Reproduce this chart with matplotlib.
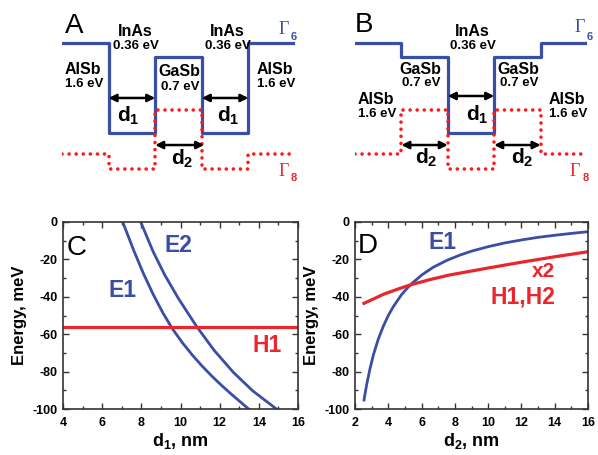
import matplotlib
matplotlib.use('Agg')
import matplotlib.pyplot as plt
from matplotlib.ticker import MultipleLocator

plt.rcParams['font.family'] = ['Liberation Sans', 'DejaVu Sans']
plt.rcParams['font.weight'] = 'bold'
plt.rcParams['axes.labelweight'] = 'bold'
plt.rcParams['axes.unicode_minus'] = False
plt.rcParams['mathtext.fontset'] = 'custom'
plt.rcParams['mathtext.rm'] = 'Liberation Sans:bold'
plt.rcParams['mathtext.bf'] = 'Liberation Sans:bold'
plt.rcParams['mathtext.it'] = 'Liberation Sans:bold'
plt.rcParams['mathtext.sf'] = 'Liberation Sans:bold'

BLUE = '#3a4ea6'
RED = '#e8262c'
W, H = 598, 455

# band diagrams (schematic, arb. units)
layers_a = ['AlSb', 'InAs', 'GaSb', 'InAs', 'AlSb']
layers_b = ['AlSb', 'GaSb', 'InAs', 'GaSb', 'AlSb']
gap_ev = {'AlSb': '1.6 eV', 'InAs': '0.36 eV', 'GaSb': '0.7 eV'}
gamma6 = {'AlSb': 1.0, 'InAs': 0.0, 'GaSb': 0.84}
gamma8 = {'AlSb': -0.23, 'InAs': -0.40, 'GaSb': 0.25}

# panel C: energy vs d1
c_e1_x = [7.05, 7.6, 8.1, 8.6, 9.1, 9.6, 10.1, 10.6, 11.1, 11.6, 12.1, 12.6, 13.1, 13.48]
c_e1_y = [0, -14.9, -27.4, -38.6, -48.6, -57.3, -64.6, -71.1, -77.0, -82.4, -87.4, -92.1, -96.6, -100]
c_e2_x = [7.97, 8.6, 9.2, 9.9, 10.8, 11.7, 12.7, 13.7, 14.9]
c_e2_y = [0, -15.8, -28.4, -41.0, -55.5, -68.4, -80.4, -90.4, -100]
c_h1_x = [4, 16]
c_h1_y = [-56.3, -56.3]

# panel D: energy vs d2
d_e1_x = [2.54, 2.7, 2.9, 3.1, 3.4, 3.7, 4.0, 4.3, 4.8, 5.3, 6.0, 6.7, 7.5,
          8.3, 9.0, 10, 11, 12, 13, 14, 15, 16]
d_e1_y = [-95.2, -87, -78.5, -71.2, -62.6, -55.8, -50, -45.3, -38.8, -33.8,
          -28.4, -24.2, -20.6, -17.7, -15.6, -13.2, -11.2, -9.6, -8.2, -7.1,
          -6.1, -5.2]
d_h_x = [2.54, 3.7, 4.5, 5.3, 6.5, 7.7, 10, 12, 14, 16]
d_h_y = [-43.5, -38.7, -36.1, -33.7, -30.8, -28.3, -24.6, -21.5, -18.6, -15.9]


def ftext(x, y, s, **kw):
    kw.setdefault('ha', 'center')
    kw.setdefault('va', 'center')
    fig.text(x / W, 1 - y / H, s, **kw)


def band_panel(left, right, layers):
    ax = fig.add_axes([left / W, 1 - 190 / H, (right - left) / W, 190 / H])
    ax.set_xlim(0, len(layers))
    ax.set_ylim(-0.631, 1.473)
    ax.axis('off')
    xs = list(range(len(layers) + 1))
    g6 = [gamma6[l] for l in layers]
    g8 = [gamma8[l] for l in layers]
    ax.step(xs, g6 + [g6[-1]], where='post', color=BLUE, lw=2.3, zorder=2)
    ax.step(xs, g8 + [g8[-1]], where='post', color='#ff1a1a', lw=2.6,
            linestyle=(0, (0.01, 1.95)), dash_capstyle='round', zorder=3)
    return ax


def arrow(ax, x0, x1, y):
    ax.annotate('', xy=(x1, y), xytext=(x0, y),
                arrowprops=dict(arrowstyle='<|-|>', color='k', lw=1.8,
                                mutation_scale=11, shrinkA=0, shrinkB=0))


def layer_label(x, y, name, dy=14):
    ftext(x, y, name, fontsize=11.5)
    ftext(x + 1, y + dy, gap_ev[name], fontsize=9.5)


fig = plt.figure(figsize=(W / 100, H / 100), dpi=100)

# ---- A ----
axa = band_panel(62, 295, layers_a)
arrow(axa, 1, 2, 0.388)
arrow(axa, 3, 4, 0.388)
arrow(axa, 2, 3.05, -0.133)
ftext(65, 33, 'A', fontsize=20, fontweight='normal', ha='left', va='baseline')
layer_label(135, 31, 'InAs', 15)
layer_label(227, 31, 'InAs', 15)
layer_label(83, 70, 'AlSb')
layer_label(179, 72, 'GaSb', 15)
layer_label(275, 70, 'AlSb')
ftext(128, 116, r'$\mathrm{d}_\mathrm{1}$', fontsize=15)
ftext(228, 116, r'$\mathrm{d}_\mathrm{1}$', fontsize=15)
ftext(182, 159, r'$\mathrm{d}_\mathrm{2}$', fontsize=15)
ftext(284, 30, 'Γ', fontsize=13, color=BLUE, family='Liberation Serif', fontweight='normal')
ftext(294, 37, '6', fontsize=8, color=BLUE)
ftext(284, 172, 'Γ', fontsize=13, color=RED, family='Liberation Serif', fontweight='normal')
ftext(294, 178, '8', fontsize=8, color=RED)

# ---- B ----
axb = band_panel(355, 587, layers_b)
arrow(axb, 2, 3, 0.41)
arrow(axb, 1, 2, -0.133)
arrow(axb, 3, 4, -0.133)
ftext(355, 32, 'B', fontsize=20, fontweight='normal', ha='left', va='baseline')
layer_label(472, 31, 'InAs', 15)
layer_label(420, 69, 'GaSb')
layer_label(518, 69, 'GaSb')
layer_label(376, 99, 'AlSb', 15)
layer_label(567, 99, 'AlSb', 15)
ftext(477, 115, r'$\mathrm{d}_\mathrm{1}$', fontsize=15)
ftext(426, 158, r'$\mathrm{d}_\mathrm{2}$', fontsize=15)
ftext(522, 158, r'$\mathrm{d}_\mathrm{2}$', fontsize=15)
ftext(580, 27, 'Γ', fontsize=13, color=BLUE, family='Liberation Serif', fontweight='normal')
ftext(590, 37, '6', fontsize=8, color=BLUE)
ftext(575, 172, 'Γ', fontsize=13, color=RED, family='Liberation Serif', fontweight='normal')
ftext(586, 178, '8', fontsize=8, color=RED)


def style_axes(ax, xmin, xlabel):
    ax.set_xlim(xmin, 16)
    ax.set_ylim(-100, 0)
    ax.xaxis.set_major_locator(MultipleLocator(2))
    ax.xaxis.set_minor_locator(MultipleLocator(1))
    ax.yaxis.set_major_locator(MultipleLocator(20))
    ax.yaxis.set_minor_locator(MultipleLocator(10))
    ax.tick_params(which='both', direction='in', top=True, right=True,
                   labelsize=9, width=1, color='#333333')
    ax.tick_params(which='major', length=4.5)
    ax.tick_params(which='minor', length=2.5)
    ax.tick_params(axis='x', pad=6)
    ax.tick_params(axis='y', pad=4)
    for t in ax.get_xticklabels() + ax.get_yticklabels():
        t.set_fontweight('bold')
    for s in ax.spines.values():
        s.set_linewidth(1.2)
        s.set_color('#333333')
    ax.set_ylabel('Energy, meV', fontsize=12, labelpad=4)
    ax.set_xlabel(xlabel, fontsize=13, labelpad=1)


# ---- C ----
axc = fig.add_axes([63 / W, 1 - 409 / H, 235 / W, 187 / H])
axc.plot(c_e1_x, c_e1_y, color=BLUE, lw=2)
axc.plot(c_e2_x, c_e2_y, color=BLUE, lw=2)
axc.plot(c_h1_x, c_h1_y, color=RED, lw=2.3)
style_axes(axc, 4, r'$\mathrm{d}_\mathrm{1}$, nm')
axc.text(0.017, 0.824, 'C', transform=axc.transAxes, fontsize=20,
         fontweight='normal', va='baseline')
axc.text(9.87, -12.3, 'E2', color=BLUE, fontsize=16.5, ha='center', va='center')
axc.text(7.06, -36.4, 'E1', color=BLUE, fontsize=16.5, ha='center', va='center')
axc.text(14.42, -65.8, 'H1', color=RED, fontsize=16.5, ha='center', va='center')

# ---- D ----
axd = fig.add_axes([355 / W, 1 - 409 / H, 233 / W, 187 / H])
axd.plot(d_e1_x, d_e1_y, color=BLUE, lw=2)
axd.plot(d_h_x, d_h_y, color=RED, lw=2.3)
style_axes(axd, 2, r'$\mathrm{d}_\mathrm{2}$, nm')
axd.text(0.013, 0.834, 'D', transform=axd.transAxes, fontsize=20,
         fontweight='normal', va='baseline')
axd.text(7.23, -11.2, 'E1', color=BLUE, fontsize=16.5, ha='center', va='center')
axd.text(14.02, -26.7, 'x2', color=RED, fontsize=15, ha='right', va='center')
axd.text(14.02, -40.1, 'H1,H2', color=RED, fontsize=16.5, ha='right', va='center')

fig.savefig('out.png', dpi=100)
